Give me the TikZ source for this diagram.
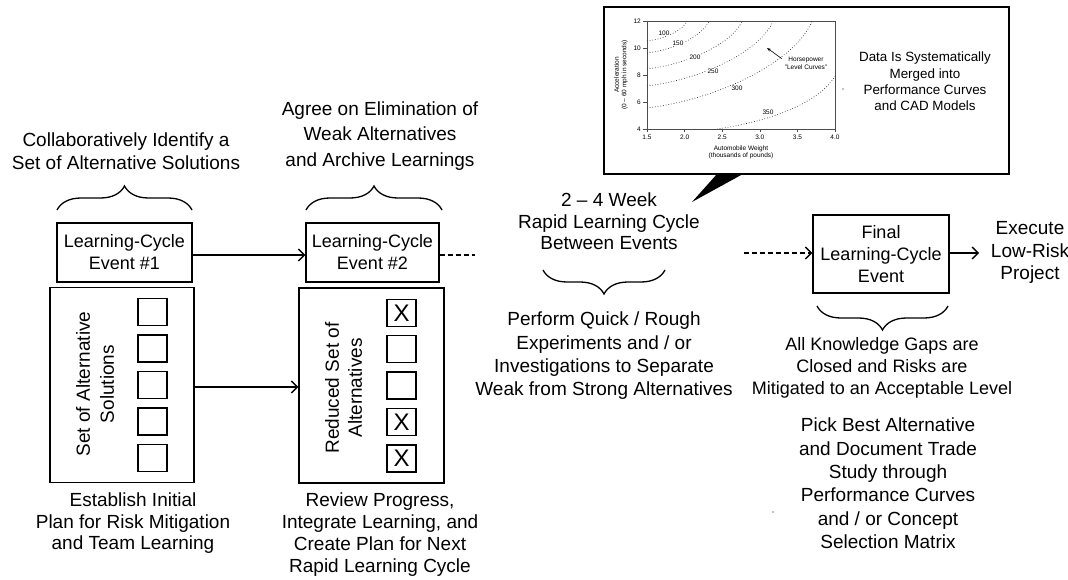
\documentclass[tikz,border=0pt]{standalone}
\usepackage{fontspec}
\setmainfont{Liberation Sans}
\usetikzlibrary{arrows.meta,decorations.pathreplacing,calc}

\begin{document}
\begin{tikzpicture}[x=1pt,y=-1pt,
  txt/.style={align=center,inner sep=0pt,font=\fontsize{19}{22.5}\selectfont},
  evbox/.style={draw,line width=1.4pt,align=center,inner sep=0pt,
    font=\fontsize{18}{22}\selectfont},
  setbox/.style={draw,line width=1.4pt,inner sep=0pt,minimum width=145pt,minimum height=195pt},
  optbox/.style={draw,line width=1.4pt,inner sep=0pt,minimum width=29pt,minimum height=27pt,
    font=\fontsize{24}{24}\selectfont},
  conn/.style={line width=1.3pt,-{Straight Barb[length=6pt,width=12pt,line width=1.3pt]}},
  dashconn/.style={conn,dash pattern=on 5pt off 3pt},
  brc/.style={decorate,decoration={brace,amplitude=24pt},line width=1.3pt},
  level/.style={dotted,line width=0.7pt,black!80},
  lvlab/.style={fill=white,inner sep=0.4pt,font=\fontsize{6.5}{7}\selectfont},
  tick/.style={font=\fontsize{6.5}{7}\selectfont,inner sep=0pt},
  small/.style={align=center,inner sep=0pt,font=\fontsize{6.5}{7.5}\selectfont}]
\useasboundingbox (0,0) rectangle (1068,580);

% ---------- callout with performance curves ----------
\node[draw,line width=2pt,minimum width=405pt,minimum height=167pt,inner sep=0pt]
  (callout) at (806.5,90.5) {};
\coordinate (ptrA) at (717,174);
\coordinate (ptrB) at (743,174);
\coordinate (ptrTip) at (692,202);
\fill (ptrA) -- (ptrB) -- (ptrTip) -- cycle;

% chart frame and ticks
\draw[line width=0.5pt,black!70] (647,21) rectangle (835,129);
\foreach \yy/\lab in {21/12,48/10,75/8,102/6,129/4}{
  \draw[line width=0.5pt,black!70] (643,\yy) -- (647,\yy);
  \node[tick,anchor=east] (yt\lab) at (641,\yy) {\lab};
}
\foreach \xx/\lab in {647/1.5,684.6/2.0,722.2/2.5,759.8/3.0,797.4/3.5,835/4.0}{
  \draw[line width=0.5pt,black!70] (\xx,129) -- (\xx,132);
  \node[tick] (xt\lab) at (\xx,137.5) {\lab};
}
\node[small,rotate=90] (ylab) at (621,75) {Acceleration\\(0 -- 60 mph in seconds)};
\node[small] (xlab) at (741,152.5) {Automobile Weight\\(thousands of pounds)};

% horsepower level curves
\draw[level] (647,41) .. controls (667,38.6) and (683.8,29) .. (687,21);
\draw[level] (647,53) .. controls (678,49.2) and (704,33.8) .. (709,21);
\draw[level] (647,69) .. controls (694.5,63.2) and (734.4,40.2) .. (742,21);
\draw[level] (647,86) .. controls (710,78.2) and (763,47) .. (773,21);
\draw[level] (647,108) .. controls (729.5,97.6) and (798.8,55.8) .. (812,21);
\draw[level] (717,129) .. controls (772,121) and (820,102) .. (835,76);
\node[lvlab] (l100) at (664,33.5) {100};
\node[lvlab] (l150) at (678,43.5) {150};
\node[lvlab] (l200) at (695,57) {200};
\node[lvlab] (l250) at (713,71) {250};
\node[lvlab] (l300) at (737,88) {300};
\node[lvlab] (l350) at (768,112) {350};

\node[small,font=\fontsize{6.5}{8}\selectfont] (hp) at (806,63) {Horsepower\\"Level Curves"};
\draw[line width=0.6pt,-{Stealth[length=4pt,width=3pt]}] (hp.north west) ++(-3,2) coordinate (hpstart)
  (hpstart) -- (767,48);
\fill (843,89) circle (0.6);

\node[align=center,inner sep=0pt,font=\fontsize{13.4}{16.3}\selectfont] (merge) at (925,81.5)
  {Data Is Systematically\\Merged into\\Performance Curves\\and CAD Models};

% ---------- first learning-cycle event ----------
\node[txt] (collab) at (126,151) {Collaboratively Identify a\\Set of Alternative Solutions};
\draw[brc] (57,210) -- (192,210);
\node[evbox,minimum width=135pt,minimum height=59pt] (ev1) at (124.5,252.5)
  {Learning-Cycle\\Event \#1};
\node[setbox,minimum width=144pt] (set1) at (122,385) {};
\node[align=center,inner sep=0pt,rotate=90,font=\fontsize{19}{24}\selectfont] (set1t) at (95,384)
  {Set of Alternative\\Solutions};
\foreach \i/\yy in {1/312,2/348.5,3/385,4/421.5,5/458}{
  \node[optbox] (a\i) at (152.5,\yy) {};
}
\node[txt,font=\fontsize{19}{21.5}\selectfont] (establish) at (133,523.5)
  {Establish Initial\\Plan for Risk Mitigation\\and Team Learning};

% ---------- second learning-cycle event ----------
\node[txt,font=\fontsize{19}{25.8}\selectfont] (agree) at (380,136)
  {Agree on Elimination of\\Weak Alternatives\\and Archive Learnings};
\draw[brc] (306,210) -- (442,210);
\node[evbox,minimum width=133pt,minimum height=59pt] (ev2) at (372.5,252.5)
  {Learning-Cycle\\Event \#2};
\node[setbox] (set2) at (371.5,385.5) {};
\node[align=center,inner sep=0pt,rotate=90,font=\fontsize{19}{23}\selectfont] (set2t) at (343.5,388)
  {Reduced Set of\\Alternatives};
\node[optbox] (b1) at (401.5,313) {X};
\node[optbox] (b2) at (401.5,349) {};
\node[optbox] (b3) at (401.5,385.5) {};
\node[optbox] (b4) at (401.5,422) {X};
\node[optbox] (b5) at (401.5,458.5) {X};
\node[txt,font=\fontsize{19}{22}\selectfont] (review) at (380,535)
  {Review Progress,\\Integrate Learning, and\\Create Plan for Next\\Rapid Learning Cycle};

\draw[conn] (ev1.east |- 0,255) -- (ev2.west |- 0,255);
\draw[conn] (set1.east |- 0,387) -- (set2.west |- 0,387);
\coordinate (dashend) at (475,255);
\draw[line width=1.3pt,dash pattern=on 5pt off 3pt] (ev2.east |- dashend) -- (dashend);

% ---------- rapid learning cycle ----------
\node[txt,font=\fontsize{19}{21.5}\selectfont] (cycle) at (609,221.5)
  {2 -- 4 Week\\Rapid Learning Cycle\\Between Events};
\draw[brc] (665,270) -- (543,270);
\node[txt,font=\fontsize{19}{23.3}\selectfont] (perform) at (604,356)
  {Perform Quick / Rough\\Experiments and / or\\Investigations to Separate\\Weak from Strong Alternatives};

% ---------- final learning-cycle event ----------
\coordinate (dashstart) at (744,253);
\node[evbox,minimum width=136pt,minimum height=78pt] (final) at (881,254)
  {Final\\Learning-Cycle\\Event};
\draw[dashconn] (dashstart) -- (final.west |- dashstart);
\coordinate (execend) at (979,253);
\draw[conn] (final.east |- execend) -- (execend);
\node[txt,font=\fontsize{19}{22.5}\selectfont] (execute) at (1030,252.5)
  {Execute\\Low-Risk\\Project};
\draw[brc] (948,306) -- (817,306);
\node[txt,font=\fontsize{18}{22}\selectfont] (gaps) at (882,368)
  {All Knowledge Gaps are\\Closed and Risks are\\Mitigated to an Acceptable Level};
\node[txt,font=\fontsize{19}{23.4}\selectfont] (pick) at (888,483.5)
  {Pick Best Alternative\\and Document Trade\\Study through\\Performance Curves\\and / or Concept\\Selection Matrix};
\fill (773,512) circle (0.6);
\end{tikzpicture}
\end{document}
